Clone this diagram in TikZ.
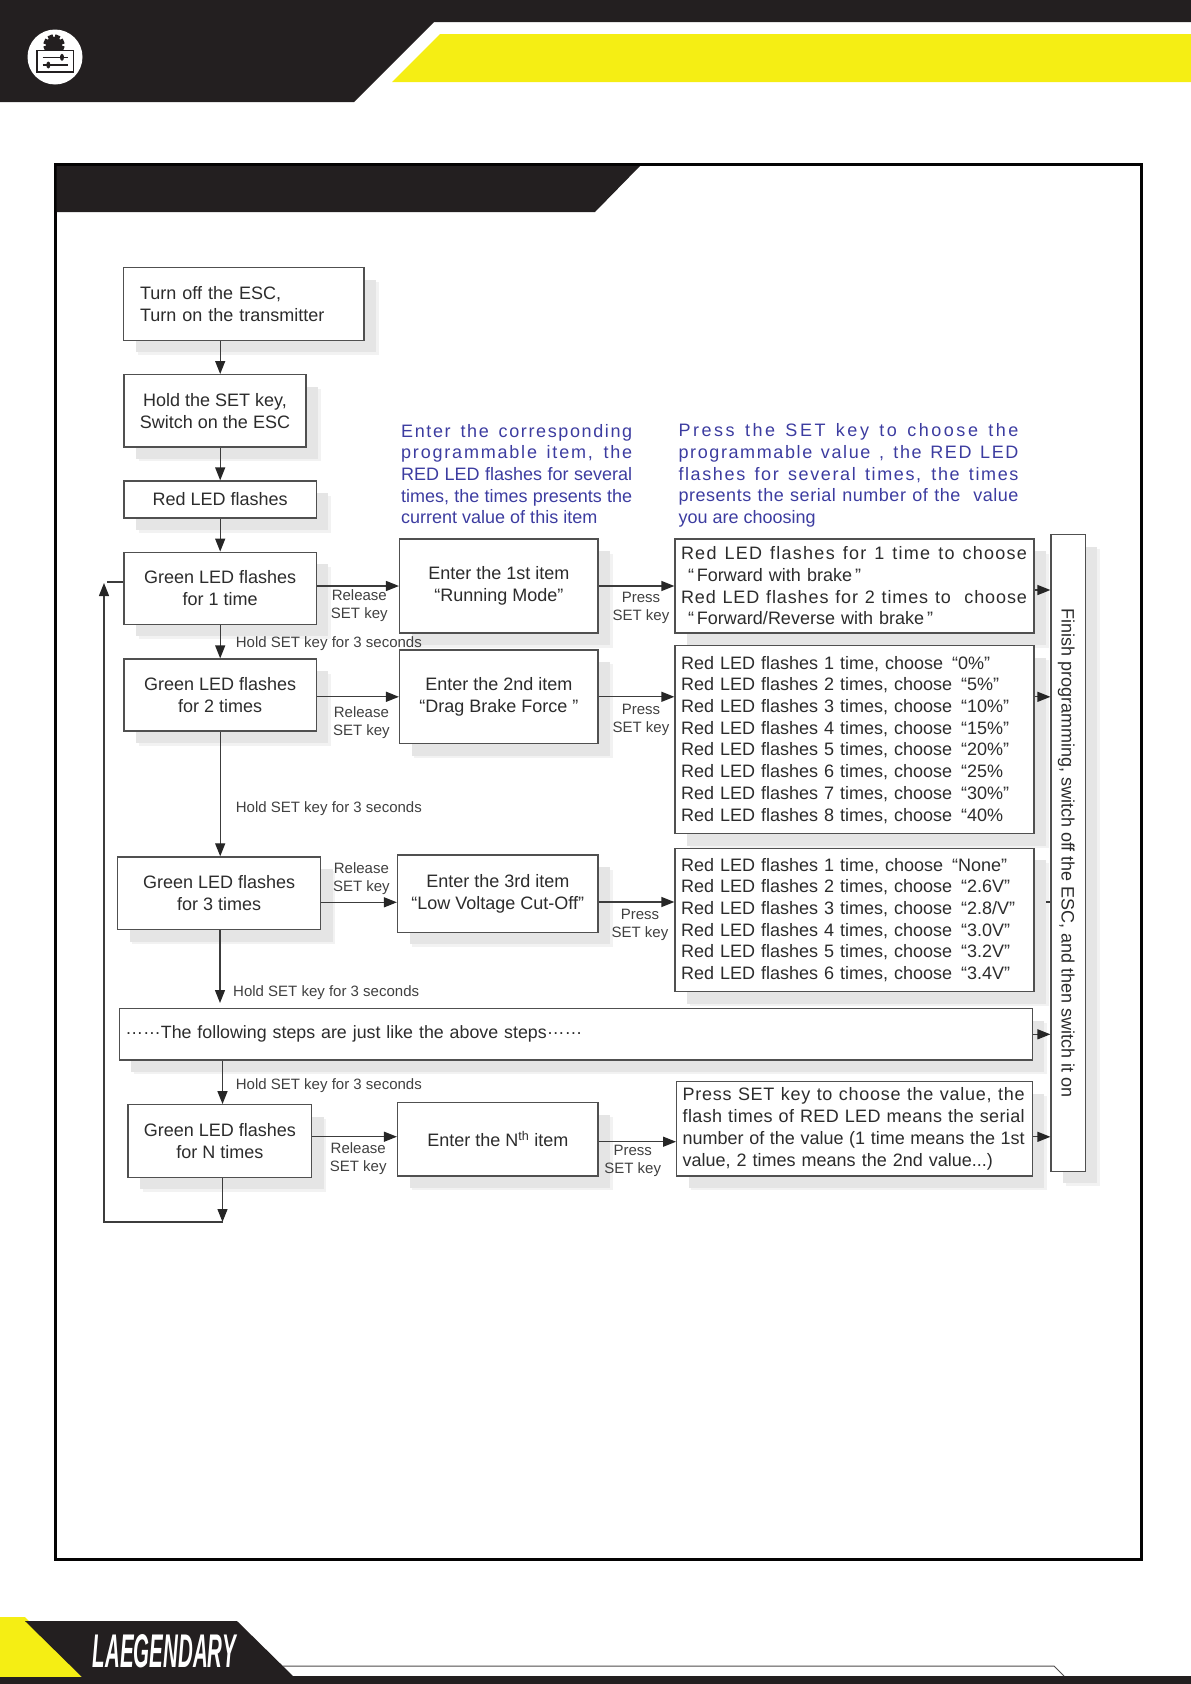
\documentclass[tikz,border=0pt]{standalone}
\usepackage{fontspec}
\setmainfont{Liberation Sans}
\usetikzlibrary{arrows.meta,shadows}
\definecolor{darkband}{HTML}{231F20}
\definecolor{bandyellow}{HTML}{F5EE14}
\definecolor{boxline}{HTML}{505050}
\definecolor{flowline}{HTML}{3C3C3C}
\definecolor{boxtext}{HTML}{2C2C2C}
\definecolor{labeltext}{HTML}{404040}
\definecolor{hintblue}{HTML}{3C3CA0}
\newcommand{\fitline}[3]{{\addfontfeature{LetterSpace=#2}\makebox[#1][s]{\spaceskip=.3em plus 1fil minus .1em\relax #3}}}
\tikzset{
	stepbox/.style={draw=boxline,line width=1.3pt,fill=white,inner sep=0pt,align=center,text=boxtext,font=\fontsize{18}{21.7}\selectfont,
		general shadow={shadow xshift=14.5pt,shadow yshift=-14.5pt,fill=black!5},
		general shadow={shadow xshift=12pt,shadow yshift=-12pt,fill=black!10}},
	valuebox/.style={stepbox,align=left,inner xsep=6pt},
	keylabel/.style={inner sep=0pt,align=center,text=labeltext,font=\fontsize{15}{18}\selectfont},
	hintlabel/.style={anchor=west,inner sep=0pt,align=left,text=hintblue,font=\fontsize{18}{21.7}\selectfont},
	flow/.style={draw=flowline,line width=1.3pt,-{Triangle[length=13pt,width=10pt,color=black!85]}},
	link/.style={draw=flowline,line width=1.3pt}
}
\begin{document}
\begin{tikzpicture}[x=1pt,y=-1pt]
	\useasboundingbox (0,0) rectangle (1191,1684);
	\fill[darkband] (0,0) -- (1191,0) -- (1191,22) -- (434,22) -- (354,102) -- (0,102) -- cycle;
	\fill[bandyellow] (440,34) -- (1191,34) -- (1191,82) -- (392,82) -- cycle;
	\fill[white] (55,57) circle (27.5);
	\fill[darkband] (54,45) circle (8);
	\foreach \a in {22.5,67.5,112.5,157.5}
		\fill[darkband,shift={(54,45)},rotate=\a] (-2.6,-10.5) rectangle (2.6,10.5);
	\fill[white] (49.5,50) arc (180:0:4.5) -- cycle;
	\draw[darkband,line width=1.6pt,fill=white] (36.7,50.5) rectangle (73.3,71.7);
	\draw[darkband,line width=1.2pt] (42.7,57.3) -- (67.7,57.3);
	\draw[darkband,line width=1.2pt] (42.7,65) -- (67.7,65);
	\fill[darkband] (62,57.3) ellipse (2 and 3.5);
	\fill[darkband] (48.3,65) ellipse (2 and 3.5);
	\draw[black!90!darkband,line width=3pt] (55,164.5) rectangle (1141,1559.5);
	\fill[darkband] (56.5,166) -- (640,166) -- (595,212) -- (56.5,212) -- cycle;
	\fill[bandyellow] (0,1617) -- (25,1617) -- (82,1677) -- (0,1677) -- cycle;
	\fill[darkband] (25,1621) -- (237,1621) -- (293,1676) -- (1191,1676) -- (1191,1684) -- (0,1684) -- (0,1677) -- (82,1677) -- cycle;
	\draw[darkband!80,line width=1pt] (283,1666) -- (1054,1666) -- (1064,1676);
	\node[inner sep=0pt,text=white](brand) at (164.5,1651) {\resizebox{143pt}{33pt}{\bfseries\itshape LAEGENDARY}};

	\node[stepbox,minimum width=240.4,minimum height=72.6,text width=207.6,inner xsep=16.4pt,align=left](turnoff) at (243.8,304) {Turn off the ESC,\\Turn on the transmitter};
	\node[stepbox,minimum width=182,minimum height=72.3](hold) at (215,410.8) {Hold the SET key,\\Switch on the ESC};
	\node[stepbox,minimum width=192.4,minimum height=37](redled) at (220.2,499.5) {Red LED flashes};
	\node[stepbox,minimum width=192.4,minimum height=72](green1) at (220.2,588.3) {Green LED flashes\\for 1 time};
	\node[stepbox,minimum width=192.4,minimum height=72](green2) at (220.2,695) {Green LED flashes\\for 2 times};
	\node[stepbox,minimum width=203.2,minimum height=72.7](green3) at (219.1,893.3) {Green LED flashes\\for 3 times};
	\node[stepbox,minimum width=913,minimum height=51.3,text width=901,inner xsep=6pt,align=left,font=\fontsize{17.8}{21}\selectfont](following) at (575.8,1034.3) {\raisebox{.25em}{……}The following steps are just like the above steps\raisebox{.25em}{……}};
	\node[stepbox,minimum width=183.8,minimum height=72.6](greenN) at (219.9,1141) {Green LED flashes\\for N times};
	\node[stepbox,minimum width=198.4,minimum height=94](item1) at (498.8,586) {Enter the 1st item\\“Running Mode”};
	\node[stepbox,minimum width=198.4,minimum height=93.7](item2) at (498.8,696.8) {Enter the 2nd item\\“Drag Brake Force ”};
	\node[stepbox,minimum width=200.5,minimum height=77.3](item3) at (497.8,893.7) {Enter the 3rd item\\“Low Voltage Cut-Off”};
	\node[stepbox,minimum width=200.5,minimum height=73.3](itemN) at (497.8,1139.3) {Enter the N\textsuperscript{th} item};
	\node[valuebox,minimum height=94,text width=347](valueA) at (854.5,586) {\fitline{346pt}{7}{Red LED flashes for 1 time to choose}\\\hspace*{7pt}“\,Forward with brake\,”\\\fitline{346pt}{5}{Red LED flashes for 2 times to\ \ choose}\\\hspace*{7pt}“\,Forward/Reverse with brake\,”};
	\node[valuebox,minimum height=188,text width=347](valueB) at (854.5,739.7) {Red LED flashes 1 time, choose \,“0\%”\\Red LED flashes 2 times, choose \,“5\%”\\Red LED flashes 3 times, choose \,“10\%”\\Red LED flashes 4 times, choose \,“15\%”\\Red LED flashes 5 times, choose \,“20\%”\\Red LED flashes 6 times, choose \,“25\%\\Red LED flashes 7 times, choose \,“30\%”\\Red LED flashes 8 times, choose \,“40\%};
	\node[valuebox,minimum height=143.4,text width=347](valueC) at (854.5,920) {Red LED flashes 1 time, choose \,“None”\\Red LED flashes 2 times, choose \,“2.6V”\\Red LED flashes 3 times, choose \,“2.8/V”\\Red LED flashes 4 times, choose \,“3.0V”\\Red LED flashes 5 times, choose \,“3.2V”\\Red LED flashes 6 times, choose \,“3.4V”};
	\node[valuebox,minimum height=94.3,text width=343.6](valueD) at (854.5,1128.8) {\fitline{342pt}{4}{Press SET key to choose the value, the}\\\fitline{342pt}{2}{flash times of RED LED means the serial}\\\fitline{342pt}{0}{number of the value (1 time means the 1st}\\value, 2 times means the 2nd value...)};
	\node[stepbox,minimum width=34.3,minimum height=636.6](finish) at (1068.2,853) {\hspace*{-4pt}\rotatebox{-90}{Finish programming, switch off the ESC, and then switch it on}};

	\node[hintlabel](hintitem) at (401,474) {\fitline{231pt}{9}{Enter the corresponding}\\\fitline{231pt}{10}{programmable item, the}\\\fitline{231pt}{0}{RED LED flashes for several}\\\fitline{231pt}{0}{times, the times presents the}\\current value of this item};
	\node[hintlabel](hintvalue) at (678.3,475.5) {\fitline{340pt}{14}{Press the SET key to choose the}\\\fitline{340pt}{9}{programmable value , the RED LED}\\\fitline{340pt}{9}{flashes for several times, the times}\\\fitline{340pt}{3}{presents the serial number of the\ \ value}\\you are choosing};

	\node[keylabel](release1) at (359.3,606) {Release\\SET key};
	\node[keylabel](release2) at (361.4,722.3) {Release\\SET key};
	\node[keylabel](release3) at (361.4,878.3) {Release\\SET key};
	\node[keylabel](releaseN) at (358.2,1159) {Release\\SET key};
	\node[keylabel](press1) at (641,607.8) {Press\\SET key};
	\node[keylabel](press2) at (641,719.8) {Press\\SET key};
	\node[keylabel](press3) at (640,924.5) {Press\\SET key};
	\node[keylabel](pressN) at (632.7,1161) {Press\\SET key};
	\node[keylabel,anchor=west](hold1) at (235.7,643.7) {Hold SET key for 3 seconds};
	\node[keylabel,anchor=west](hold2) at (235.7,808.3) {Hold SET key for 3 seconds};
	\node[keylabel,anchor=west](hold3) at (233,993) {Hold SET key for 3 seconds};
	\node[keylabel,anchor=west](hold4) at (235.7,1085.7) {Hold SET key for 3 seconds};

	\coordinate (abovefollowing) at (220,1003);
	\coordinate (loopbase) at (222.5,1222);
	\coordinate (loopcorner) at (104,1222);
	\coordinate (looptop) at (104,583);
	\coordinate (loopstub) at (107,582);

	\draw[flow] (turnoff.south -| redled.north) -- (hold.north -| redled.north);
	\draw[flow] (hold.south -| redled.north) -- (redled.north);
	\draw[flow] (redled.south) -- (green1.north);
	\draw[flow] (green1.south) -- (green2.north);
	\draw[flow] (green2.south) -- (green2.south |- green3.north);
	\draw[flow] (green3.south -| abovefollowing) -- (abovefollowing);
	\draw[flow] (loopbase |- following.south) -- (loopbase |- greenN.north);
	\draw[flow] (loopbase |- greenN.south) -- (loopbase);
	\draw[flow] (loopbase) -- (loopcorner) -- (looptop);
	\draw[link] (green1.west |- loopstub) -- (loopstub);

	\draw[flow] ([yshift=2.3pt]green1.east) -- (item1.west);
	\draw[flow] (item1.east) -- (valueA.west);
	\draw[flow] ([yshift=-1.8pt]green2.east) -- (item2.west);
	\draw[flow] (item2.east) -- (item2.east -| valueB.west);
	\draw[flow] ([yshift=-9pt]green3.east) -- ([yshift=-8.6pt]item3.west);
	\draw[flow] ([yshift=-8.3pt]item3.east) -- ([yshift=18pt]valueC.west);
	\draw[flow] ([yshift=4.3pt]greenN.east) -- ([yshift=2.6pt]itemN.west);
	\draw[flow] ([yshift=-2.4pt]itemN.east) -- ([yshift=-12.9pt]valueD.west);

	\draw[flow] ([yshift=-4pt]valueA.east) -- ([yshift=-4pt]valueA.east -| finish.west);
	\draw[flow] (item2.east -| valueB.east) -- (item2.east -| finish.west);
	\draw[link] ([yshift=18pt]valueC.east -| finish.west) -- ++(-4,0);
	\draw[flow] (following.east) -- (following.east -| finish.west);
	\draw[flow] ([yshift=-8pt]valueD.east) -- ([yshift=-8pt]valueD.east -| finish.west);
\end{tikzpicture}
\end{document}
